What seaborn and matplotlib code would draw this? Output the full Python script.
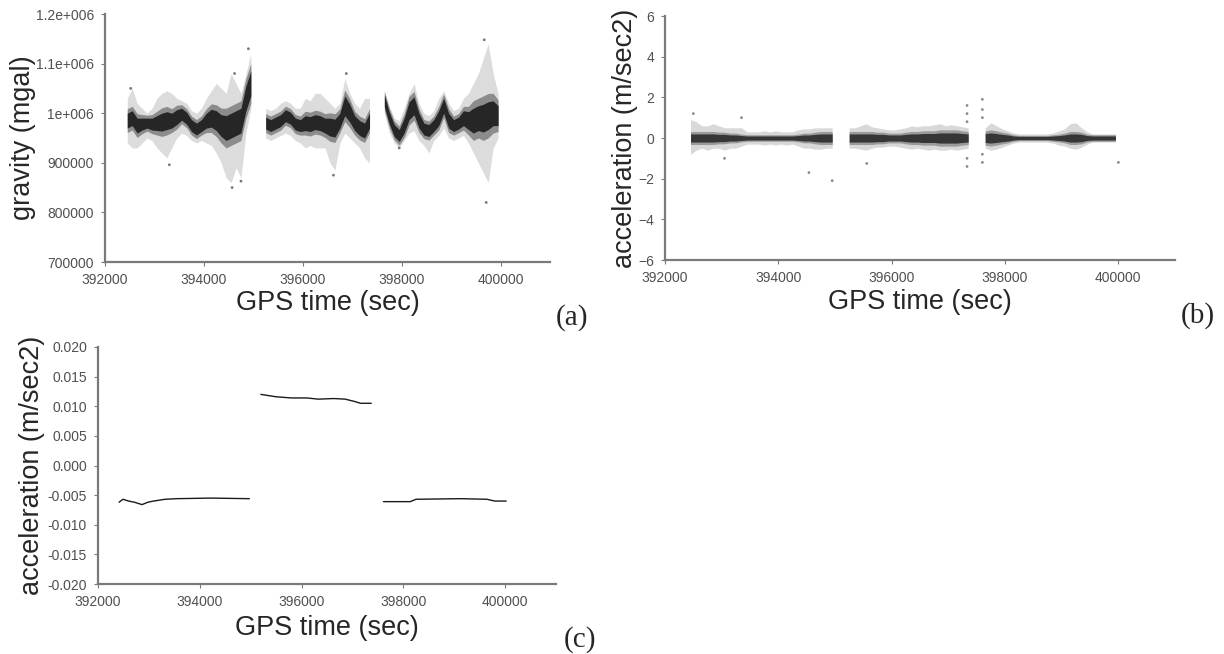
import numpy as np
import pandas as pd
import matplotlib
matplotlib.use("Agg")
import matplotlib.pyplot as plt
import seaborn as sns

# ---------------- data ----------------
x_ticks = [392000, 394000, 396000, 398000, 400000]
x_tick_labels = ["392000", "394000", "396000", "398000", "400000"]

# (a) gravity (mgal): per 100-s bin -> segment, dense core centre, core half width, outer low, outer high
grav_seg = [1] * 26 + [2] * 22 + [3] * 24
grav_t = [392450, 392550, 392650, 392750, 392850, 392950, 393050, 393150, 393250, 393350,
          393450, 393550, 393650, 393750, 393850, 393950, 394050, 394150, 394250, 394350,
          394450, 394550, 394650, 394750, 394850, 394950,
          395250, 395350, 395450, 395550, 395650, 395750, 395850, 395950, 396050, 396150,
          396250, 396350, 396450, 396550, 396650, 396750, 396850, 396950, 397050, 397150,
          397250, 397350,
          397650, 397750, 397850, 397950, 398050, 398150, 398250, 398350, 398450, 398550,
          398650, 398750, 398850, 398950, 399050, 399150, 399250, 399350, 399450, 399550,
          399650, 399750, 399850, 399950]
grav_core = [985000, 990000, 975000, 978000, 980000, 978000, 980000, 982000, 985000, 985000,
             992000, 998000, 990000, 975000, 968000, 975000, 985000, 990000, 985000, 975000,
             970000, 975000, 980000, 985000, 1030000, 1060000,
             980000, 975000, 980000, 985000, 995000, 990000, 978000, 975000, 980000, 978000,
             982000, 980000, 975000, 972000, 970000, 985000, 1015000, 1000000, 980000, 970000,
             965000, 985000,
             1025000, 990000, 965000, 955000, 975000, 1005000, 1015000, 985000, 968000, 965000,
             975000, 990000, 1015000, 985000, 975000, 980000, 990000, 985000, 985000, 990000,
             990000, 995000, 1000000, 995000]
grav_hw = [15000, 15000, 15000, 12000, 10000, 12000, 15000, 18000, 18000, 15000,
           15000, 12000, 12000, 12000, 12000, 12000, 15000, 18000, 20000, 22000,
           25000, 25000, 25000, 25000, 25000, 25000,
           12000, 12000, 12000, 12000, 12000, 12000, 12000, 12000, 15000, 15000,
           15000, 15000, 15000, 18000, 18000, 15000, 20000, 18000, 15000, 15000,
           15000, 15000,
           12000, 12000, 12000, 12000, 15000, 18000, 18000, 15000, 12000, 12000,
           12000, 15000, 15000, 15000, 12000, 12000, 15000, 18000, 25000, 25000,
           28000, 28000, 25000, 20000]
grav_lo = [940000, 930000, 930000, 940000, 950000, 945000, 930000, 920000, 910000, 930000,
           950000, 960000, 955000, 945000, 940000, 945000, 940000, 935000, 920000, 900000,
           870000, 860000, 890000, 870000, 960000, 1010000,
           950000, 945000, 950000, 955000, 960000, 955000, 945000, 940000, 930000, 935000,
           930000, 930000, 930000, 900000, 885000, 940000, 960000, 950000, 940000, 930000,
           910000, 900000,
           1000000, 960000, 940000, 930000, 945000, 960000, 965000, 945000, 935000, 920000,
           945000, 955000, 970000, 950000, 945000, 950000, 955000, 940000, 920000, 900000,
           880000, 860000, 930000, 950000]
grav_hi = [1030000, 1050000, 1020000, 1010000, 1000000, 1010000, 1030000, 1040000, 1045000, 1040000,
           1030000, 1025000, 1020000, 1005000, 1000000, 1010000, 1030000, 1045000, 1060000, 1050000,
           1040000, 1080000, 1060000, 1040000, 1080000, 1120000,
           1010000, 1005000, 1010000, 1020000, 1025000, 1020000, 1010000, 1010000, 1030000, 1025000,
           1040000, 1040000, 1030000, 1020000, 1010000, 1020000, 1070000, 1040000, 1020000, 1010000,
           1030000, 1030000,
           1045000, 1015000, 990000, 985000, 1010000, 1040000, 1060000, 1020000, 1000000, 995000,
           1005000, 1030000, 1045000, 1020000, 1005000, 1010000, 1030000, 1040000, 1060000, 1080000,
           1110000, 1140000, 1080000, 1040000]
grav_out_t = [394900, 394620, 396880, 399670, 399710, 394570, 394750, 396620, 393300, 392520, 397950]
grav_out_v = [1130000, 1080000, 1080000, 1148000, 820000, 850000, 863000, 875000, 896000, 1050000, 930000]
grav_ticks = [700000, 800000, 900000, 1000000, 1100000, 1200000]
grav_tick_labels = ["700000", "800000", "900000", "1e+006", "1.1e+006", "1.2e+006"]

# (b) acceleration (m/sec2): per 100-s bin -> segment, core half width, outer low, outer high (centre 0)
acc_seg = [1] * 26 + [2] * 22 + [3] * 24
acc_t = grav_t
acc_hw = [0.20, 0.20, 0.20, 0.20, 0.20, 0.18, 0.18, 0.15, 0.15, 0.12,
          0.10, 0.10, 0.10, 0.10, 0.10, 0.10, 0.10, 0.10, 0.10, 0.12,
          0.15, 0.15, 0.18, 0.20, 0.20, 0.20,
          0.20, 0.20, 0.20, 0.20, 0.20, 0.18, 0.18, 0.15, 0.15, 0.15,
          0.18, 0.20, 0.20, 0.22, 0.22, 0.22, 0.25, 0.25, 0.25, 0.25,
          0.22, 0.20,
          0.22, 0.25, 0.22, 0.18, 0.15, 0.10, 0.08, 0.08, 0.08, 0.08,
          0.08, 0.08, 0.10, 0.12, 0.15, 0.20, 0.20, 0.18, 0.12, 0.10,
          0.10, 0.10, 0.10, 0.10]
acc_lo = [-0.8, -0.6, -0.5, -0.6, -0.5, -0.5, -0.6, -0.5, -0.5, -0.4,
          -0.3, -0.3, -0.3, -0.35, -0.3, -0.35, -0.3, -0.35, -0.3, -0.4,
          -0.5, -0.5, -0.55, -0.55, -0.5, -0.5,
          -0.5, -0.5, -0.55, -0.6, -0.5, -0.45, -0.45, -0.4, -0.4, -0.45,
          -0.5, -0.55, -0.5, -0.55, -0.6, -0.55, -0.6, -0.6, -0.55, -0.6,
          -0.55, -0.5,
          -0.5, -0.6, -0.55, -0.45, -0.35, -0.25, -0.2, -0.2, -0.2, -0.2,
          -0.2, -0.2, -0.25, -0.35, -0.4, -0.5, -0.55, -0.45, -0.3, -0.2,
          -0.2, -0.2, -0.2, -0.2]
acc_hi = [0.9, 0.8, 0.6, 0.6, 0.7, 0.6, 0.5, 0.5, 0.5, 0.5,
          0.3, 0.3, 0.3, 0.35, 0.3, 0.35, 0.3, 0.3, 0.3, 0.4,
          0.45, 0.45, 0.5, 0.5, 0.5, 0.5,
          0.5, 0.5, 0.6, 0.7, 0.55, 0.5, 0.45, 0.4, 0.4, 0.45,
          0.5, 0.6, 0.55, 0.6, 0.6, 0.65, 0.7, 0.6, 0.65, 0.6,
          0.55, 0.5,
          0.5, 0.75, 0.6, 0.45, 0.35, 0.25, 0.2, 0.2, 0.2, 0.2,
          0.2, 0.2, 0.25, 0.35, 0.45, 0.7, 0.75, 0.5, 0.3, 0.2,
          0.2, 0.2, 0.2, 0.2]
acc_out_t = [392500, 393350, 393050, 394540, 394950, 395560, 400000,
             397330, 397330, 397330, 397330, 397330, 397600, 397600, 397600, 397600, 397600]
acc_out_v = [1.2, 1.0, -1.0, -1.7, -2.1, -1.25, -1.2,
             1.6, 1.2, 0.8, -1.0, -1.4, 1.9, 1.4, 1.0, -0.8, -1.2]
acc_ticks = [-6, -4, -2, 0, 2, 4, 6]

# (c) acceleration bias (m/sec2)
bias_seg = [1] * 11 + [2] * 10 + [3] * 7
bias_t = [392414, 392490, 392602, 392715, 392866, 392979, 393092, 393318, 393544, 394221, 394974,
          395200, 395501, 395803, 396104, 396330, 396631, 396857, 397045, 397158, 397369,
          397610, 398137, 398250, 399116, 399643, 399794, 400020]
bias_v = [-0.0062, -0.0057, -0.0060, -0.0062, -0.0066, -0.0062, -0.0060, -0.0057, -0.0056, -0.0055, -0.0056,
          0.0120, 0.0116, 0.0114, 0.0114, 0.0112, 0.0113, 0.0112, 0.0108, 0.0105, 0.0105,
          -0.0061, -0.0061, -0.0057, -0.0056, -0.0057, -0.0060, -0.0060]
bias_ticks = [-0.020, -0.015, -0.010, -0.005, 0.000, 0.005, 0.010, 0.015, 0.020]
bias_tick_labels = ["-0.020", "-0.015", "-0.010", "-0.005", "0.000", "0.005", "0.010", "0.015", "0.020"]

# ---------------- figure ----------------
sns.set_style("ticks")
plt.rcParams["font.family"] = ["Liberation Sans", "DejaVu Sans"]

W, H = 1224, 654
fig = plt.figure(figsize=(W / 100, H / 100), dpi=100)
axA = fig.add_axes([105 / W, 1 - 262 / H, 445 / W, 248 / H])
axB = fig.add_axes([665 / W, 1 - 260 / H, 510 / W, 244 / H])
axC = fig.add_axes([98 / W, 1 - 584 / H, 458 / W, 237 / H])

SPINE = "#7a7a7a"
LABEL_FS = 19.5


def style(ax, xlab_y, ylab_x):
    sns.despine(ax=ax)
    for s in ["left", "bottom"]:
        ax.spines[s].set_color(SPINE)
        ax.spines[s].set_linewidth(1.6)
    ax.tick_params(length=3, width=0.8, color=SPINE, labelcolor="#505050",
                   labelsize=10, pad=5)
    ax.set_xlim(392000, 401000)
    ax.set_xticks(x_ticks)
    ax.set_xticklabels(x_tick_labels)
    ax.xaxis.set_label_coords(0.5, xlab_y)
    ax.xaxis.label.set_verticalalignment("center")
    ax.yaxis.set_label_coords(ylab_x, 0.5)
    ax.yaxis.label.set_verticalalignment("center")
    ax.yaxis.label.set_horizontalalignment("center")
    ax.set_facecolor("white")


# (a)
dfA = pd.DataFrame({"seg": grav_seg, "t": grav_t, "core": grav_core, "hw": grav_hw,
                    "lo": grav_lo, "hi": grav_hi})
for _, g in dfA.groupby("seg"):
    axA.fill_between(g["t"], g["lo"], g["hi"], color="#dcdcdc", lw=0)
    axA.fill_between(g["t"], g["core"] - 1.6 * g["hw"], g["core"] + 1.6 * g["hw"],
                     color="#8c8c8c", lw=0)
    axA.fill_between(g["t"], g["core"] - g["hw"], g["core"] + g["hw"], color="#262626", lw=0)
sns.scatterplot(x=grav_out_t, y=grav_out_v, ax=axA, s=4, color="#777777", edgecolor="none")
axA.set_ylim(700000, 1200000)
axA.set_yticks(grav_ticks)
axA.set_yticklabels(grav_tick_labels)
axA.set_xlabel("GPS time (sec)", fontsize=LABEL_FS)
axA.set_ylabel("gravity (mgal)", fontsize=LABEL_FS)
style(axA, -0.165, -0.184)

# (b)
dfB = pd.DataFrame({"seg": acc_seg, "t": acc_t, "hw": acc_hw, "lo": acc_lo, "hi": acc_hi})
for _, g in dfB.groupby("seg"):
    axB.fill_between(g["t"], g["lo"], g["hi"], color="#d8d8d8", lw=0)
    axB.fill_between(g["t"], -1.6 * g["hw"], 1.6 * g["hw"], color="#9a9a9a", lw=0)
    axB.fill_between(g["t"], -g["hw"], g["hw"], color="#363636", lw=0)
sns.scatterplot(x=acc_out_t, y=acc_out_v, ax=axB, s=4, color="#8a8a8a", edgecolor="none")
axB.set_ylim(-6, 6)
axB.set_yticks(acc_ticks)
axB.set_xlabel("GPS time (sec)", fontsize=LABEL_FS)
axB.set_ylabel("acceleration (m/sec2)", fontsize=LABEL_FS)
style(axB, -0.172, -0.078)

# (c)
dfC = pd.DataFrame({"seg": bias_seg, "t": bias_t, "v": bias_v})
sns.lineplot(data=dfC, x="t", y="v", units="seg", estimator=None, ax=axC,
             color="#1a1a1a", lw=1.0)
axC.set_ylim(-0.020, 0.020)
axC.set_yticks(bias_ticks)
axC.set_yticklabels(bias_tick_labels)
axC.set_xlabel("GPS time (sec)", fontsize=LABEL_FS)
axC.set_ylabel("acceleration (m/sec2)", fontsize=LABEL_FS)
style(axC, -0.186, -0.144)

for txt, (px, py) in {"(a)": (572, 318), "(b)": (1198, 316), "(c)": (580, 640)}.items():
    fig.text(px / W, 1 - py / H, txt, ha="center", va="center",
             family=["Liberation Serif", "DejaVu Serif"], fontsize=21)

fig.savefig("out.png", dpi=100, facecolor="white")
